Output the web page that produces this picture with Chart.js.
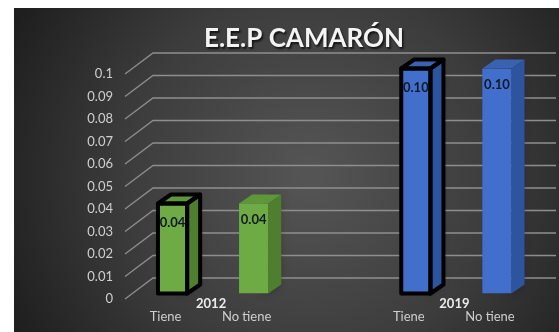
<!DOCTYPE html>
<html>
<head>
<meta charset="utf-8">
<script src="https://cdn.jsdelivr.net/npm/chart.js@4.4.1/dist/chart.umd.min.js"></script>
<style>
  html, body { margin: 0; padding: 0; background: #fff; }
  #contenedor { width: 559px; height: 332px; }
</style>
</head>
<body>
<div id="contenedor"><canvas id="graficoBarras"></canvas></div>
<script>
// datos
const categorias = ['Tiene', 'No tiene', '', 'Tiene', 'No tiene'];
const valores = [0.04, 0.04, null, 0.10, 0.10];
const anios = ['2012', '2019'];
const gruposAnio = [[0, 1], [3, 4]];   // categorias bajo cada año
const marcasY = [0, 0.01, 0.02, 0.03, 0.04, 0.05, 0.06, 0.07, 0.08, 0.09, 0.1];
const titulo = 'E.E.P CAMARÓN';

// estilo
const FUENTE = 'Lato, "Liberation Sans", sans-serif';
const PROF_X = 13, PROF_Y = 9;   // profundidad de las barras 3D
const paleta = {
    '2012': { frente: '#6fab44', lado: '#4f7e2f', tope: '#5f963a' },
    '2019': { frente: '#416fcb', lado: '#2d549e', tope: '#3a62b2' }
};
const conBorde = i => categorias[i] === 'Tiene';
const anioDe = i => anios[gruposAnio.findIndex(g => g.includes(i))];

const fondo = {
    id: 'fondo',
    beforeDraw(chart) {
        const ctx = chart.ctx;
        ctx.save();
        ctx.fillStyle = '#ffffff';
        ctx.fillRect(0, 0, chart.width, chart.height);
        const g = ctx.createRadialGradient(310, 175, 10, 310, 175, 330);
        g.addColorStop(0, '#545454');
        g.addColorStop(0.55, '#3c3c3c');
        g.addColorStop(1, '#1f1f1f');
        ctx.fillStyle = g;
        ctx.fillRect(14, 8, chart.width - 14, chart.height - 8);

        ctx.font = 'bold 26px ' + FUENTE;
        ctx.textAlign = 'center';
        ctx.textBaseline = 'middle';
        ctx.shadowColor = 'rgba(0,0,0,0.7)';
        ctx.shadowOffsetX = 1.5;
        ctx.shadowOffsetY = 1.5;
        ctx.shadowBlur = 2;
        ctx.fillStyle = '#f4f4f4';
        ctx.fillText(titulo, 304, 39);
        ctx.restore();
    }
};

// cuadricula en perspectiva: tramo diagonal + pared del fondo
const cuadricula = {
    id: 'cuadricula',
    beforeDatasetsDraw(chart) {
        const { ctx, chartArea, scales } = chart;
        ctx.save();
        ctx.strokeStyle = '#8e8e8e';
        ctx.lineWidth = 1.3;
        marcasY.forEach(v => {
            const y = scales.y.getPixelForValue(v);
            ctx.beginPath();
            ctx.moveTo(chartArea.left - 7, y + 5.5);
            ctx.lineTo(chartArea.left + 21, y - 15.5);
            ctx.lineTo(chart.width - 3, y - 15.5);
            ctx.stroke();
        });
        ctx.restore();
    }
};

function caras(el) {
    const { x, y, base, width } = el.getProps(['x', 'y', 'base', 'width'], true);
    const l = x - width / 2, r = x + width / 2;
    return {
        x, y, l, r,
        lado: [[r, y], [r + PROF_X, y - PROF_Y], [r + PROF_X, base - PROF_Y], [r, base]],
        tope: [[l, y], [l + PROF_X, y - PROF_Y], [r + PROF_X, y - PROF_Y], [r, y]],
        frente: [[l, y], [r, y], [r, base], [l, base]]
    };
}

function poligono(ctx, pts) {
    ctx.beginPath();
    pts.forEach((p, k) => k ? ctx.lineTo(p[0], p[1]) : ctx.moveTo(p[0], p[1]));
    ctx.closePath();
}

const barras3d = {
    id: 'barras3d',
    beforeDatasetsDraw(chart) {
        const ctx = chart.ctx;
        ctx.save();
        chart.getDatasetMeta(0).data.forEach((el, i) => {
            if (valores[i] == null) return;
            const c = caras(el);
            const col = paleta[anioDe(i)];
            // sombra suave en la base
            ctx.save();
            ctx.shadowColor = 'rgba(0,0,0,0.55)';
            ctx.shadowBlur = 10;
            ctx.shadowOffsetX = -4;
            ctx.fillStyle = col.lado;
            poligono(ctx, c.lado);
            ctx.fill();
            ctx.restore();
            ctx.fillStyle = col.tope;
            poligono(ctx, c.tope);
            ctx.fill();
        });
        ctx.restore();
    },
    afterDatasetsDraw(chart) {
        const ctx = chart.ctx;
        ctx.save();
        chart.getDatasetMeta(0).data.forEach((el, i) => {
            if (valores[i] == null) return;
            const c = caras(el);
            if (conBorde(i)) {
                ctx.strokeStyle = '#000';
                ctx.lineWidth = 4;
                ctx.lineJoin = 'round';
                [c.frente, c.lado, c.tope].forEach(p => { poligono(ctx, p); ctx.stroke(); });
            }
            ctx.font = 'bold 13px ' + FUENTE;
            ctx.textAlign = 'center';
            ctx.textBaseline = 'middle';
            ctx.fillStyle = '#101828';
            ctx.fillText(valores[i].toFixed(2), c.x, c.y + (conBorde(i) ? 19 : 16));
        });

        // años debajo de cada grupo
        const sx = chart.scales.x;
        ctx.font = 'bold 13px ' + FUENTE;
        ctx.fillStyle = '#ececec';
        gruposAnio.forEach((g, k) => {
            const xm = (sx.getPixelForValue(g[0]) + sx.getPixelForValue(g[g.length - 1])) / 2;
            ctx.fillText(anios[k], xm - 2, chart.chartArea.bottom + 10);
        });
        ctx.restore();
    }
};

new Chart(document.getElementById('graficoBarras').getContext('2d'), {
    type: 'bar',
    data: {
        labels: categorias,
        datasets: [{
            label: titulo,
            data: valores,
            backgroundColor: categorias.map((c, i) => valores[i] == null ? 'transparent' : paleta[anioDe(i)].frente),
            borderWidth: 0,
            barPercentage: 0.36,
            categoryPercentage: 1
        }]
    },
    options: {
        responsive: true,
        maintainAspectRatio: false,
        animation: false,
        devicePixelRatio: 1,
        layout: {
            autoPadding: false,
            padding: { top: 68.5, right: 21.5, bottom: 0, left: 0 }
        },
        plugins: {
            legend: { display: false },
            title: { display: false },
            tooltip: { enabled: false }
        },
        scales: {
            x: {
                grid: { display: false, drawTicks: false },
                border: { display: false },
                ticks: {
                    color: '#cfcfcf',
                    font: { family: FUENTE, size: 13 },
                    padding: 16,
                    labelOffset: -7,
                    maxRotation: 0,
                    autoSkip: false
                },
                afterFit: s => { s.height = 38.5; }
            },
            y: {
                min: 0,
                max: 0.1,
                afterBuildTicks: s => { s.ticks = marcasY.map(v => ({ value: v })); },
                grid: { display: false, drawTicks: false },
                border: { display: false },
                ticks: {
                    color: '#cfcfcf',
                    font: { family: FUENTE, size: 13 },
                    padding: 19,
                    labelOffset: 5.5,
                    callback: v => String(+v.toFixed(2))
                },
                afterFit: s => { s.width = 132; }
            }
        }
    },
    plugins: [fondo, cuadricula, barras3d]
});
</script>
</body>
</html>
